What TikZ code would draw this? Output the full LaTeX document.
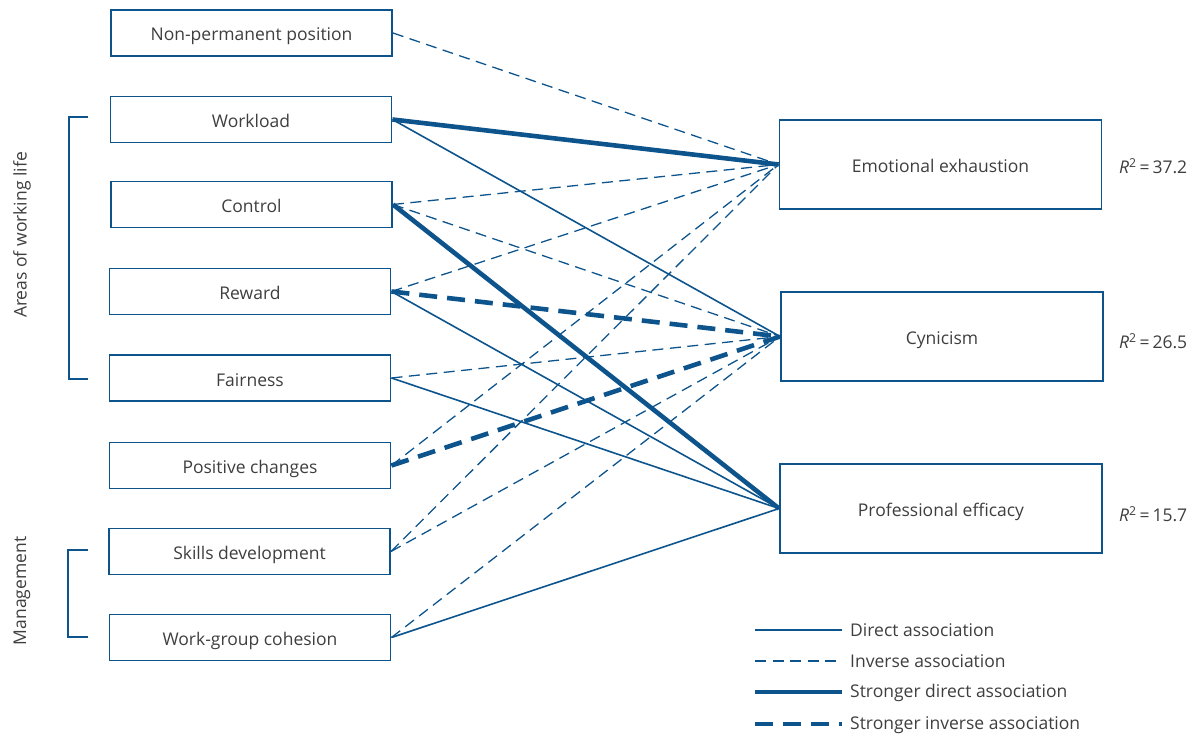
\documentclass[tikz,border=0pt]{standalone}
\usepackage{fontspec}
\setmainfont{Open Sans}
\definecolor{blu}{RGB}{14,84,140}
\definecolor{txt}{RGB}{62,62,62}
\begin{document}
\begin{tikzpicture}[x=1pt,y=-1pt,
  lbox/.style={draw=blu, line width=1.9pt, minimum width=281pt, minimum height=46pt, inner sep=0pt, text=txt, text height=16pt, text depth=0pt, font=\fontsize{17.5}{20}\selectfont},
  rbox/.style={draw=blu, line width=1.9pt, minimum width=322pt, minimum height=89pt, inner sep=0pt, text=txt, text height=16pt, text depth=0pt, font=\fontsize{17.5}{20}\selectfont},
  lbl/.style={text=txt, font=\fontsize{17.5}{20}\selectfont, inner sep=0pt},
  dir/.style={draw=blu, line width=1.6pt},
  inv/.style={draw=blu, line width=1.3pt, dash pattern=on 11pt off 6.5pt},
  sdir/.style={draw=blu, line width=4.6pt},
  sinv/.style={draw=blu, line width=4.6pt, dash pattern=on 18pt off 10pt},
  brk/.style={draw=blu, line width=1.9pt}]
\useasboundingbox (0,0) rectangle (1191,735);
% left boxes
\node[lbox] (np) at (251.5,33) {Non-permanent position};
\node[lbox] (wl) at (251,119.5) {Workload};
\node[lbox] (ct) at (251.5,204.5) {Control};
\node[lbox] (rw) at (250,291.5) {Reward};
\node[lbox] (fa) at (250,378) {Fairness};
\node[lbox] (pc) at (250,465.5) {Positive changes};
\node[lbox] (sd) at (249.5,551.5) {Skills development};
\node[lbox] (wg) at (250,637.5) {Work-group cohesion};
% right boxes
\node[rbox] (ee) at (940.5,164.5) {Emotional exhaustion};
\node[rbox] (cy) at (942,336.5) {Cynicism};
\node[rbox] (pe) at (941,508.5) {Professional efficacy};
% R^2
\node[lbl, anchor=west] (r1) at (1119,166) {\textit{R}\textsuperscript{2}\,=\,37.2};
\node[lbl, anchor=west] (r2) at (1119,341) {\textit{R}\textsuperscript{2}\,=\,26.5};
\node[lbl, anchor=west] (r3) at (1119,514) {\textit{R}\textsuperscript{2}\,=\,15.7};
% brackets and group labels
\draw[brk] (88,117) -- (69,117) -- (69,379) -- (88,379);
\draw[brk] (88,550) -- (68,550) -- (68,637) -- (88,637);
\node[lbl, rotate=90] (ga) at (22,235) {Areas of working life};
\node[lbl, rotate=90] (gm) at (22,591) {Management};
% connectors
\draw[inv] (np.east) -- (ee.west);
\draw[sdir] (wl.east) -- (ee.west);
\draw[dir] (wl.east) -- (cy.west);
\draw[inv] (ct.east) -- (ee.west);
\draw[inv] (ct.east) -- (cy.west);
\draw[sdir] (ct.east) -- (pe.west);
\draw[inv] (rw.east) -- (ee.west);
\draw[sinv] (rw.east) -- (cy.west);
\draw[dir] (rw.east) -- (pe.west);
\draw[inv] (fa.east) -- (cy.west);
\draw[dir] (fa.east) -- (pe.west);
\draw[inv] (pc.east) -- (ee.west);
\draw[sinv] (pc.east) -- (cy.west);
\draw[inv] (sd.east) -- (ee.west);
\draw[inv] (sd.east) -- (cy.west);
\draw[inv] (wg.east) -- (cy.west);
\draw[dir] (wg.east) -- (pe.west);
% legend
\coordinate (l1a) at (755,630); \coordinate (l1b) at (842,630);
\coordinate (l2a) at (755,661); \coordinate (l2b) at (842,661);
\coordinate (l3a) at (755,692); \coordinate (l3b) at (842,692);
\coordinate (l4a) at (755,724); \coordinate (l4b) at (842,724);
\draw[dir] (l1a) -- (l1b);
\draw[inv] (l2a) -- (l2b);
\draw[sdir] (l3a) -- (l3b);
\draw[sinv] (l4a) -- (l4b);
\node[lbl, anchor=west] (t1) at (850,630) {Direct association};
\node[lbl, anchor=west] (t2) at (850,661) {Inverse association};
\node[lbl, anchor=west] (t3) at (850,693) {Stronger direct association};
\node[lbl, anchor=west] (t4) at (850,725) {Stronger inverse association};
\end{tikzpicture}
\end{document}
